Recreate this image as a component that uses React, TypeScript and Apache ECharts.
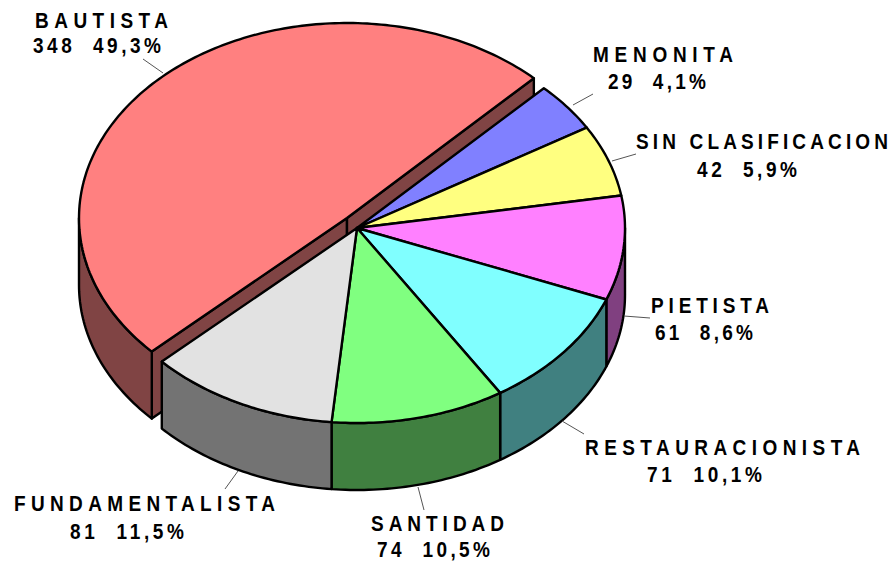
import React, { useEffect, useRef } from "react";
import * as echarts from "echarts";

const categories = ["BAUTISTA", "MENONITA", "SIN CLASIFICACION", "PIETISTA", "RESTAURACIONISTA", "SANTIDAD", "FUNDAMENTALISTA"];
const values = [348, 29, 42, 61, 71, 74, 81];
const shareLabels = ["49,3%", "4,1%", "5,9%", "8,6%", "10,1%", "10,5%", "11,5%"];
const topColors = ["#ff8080", "#8080ff", "#ffff80", "#ff80ff", "#80ffff", "#80ff80", "#e2e2e2"];
const sideColors = ["#804444", "#404080", "#808040", "#804080", "#408080", "#408040", "#737373"];

// label layout: centre x, line 1 centre y, line 1 width, line 2 centre x, line 2 centre y, line 2 width, leader x1,y1,x2,y2
const labelLayout = [
  [101.5, 20, 133, 97, 45, 128, 143, 59, 163, 73],
  [663, 54, 140, 657, 81, 98, 593, 94, 573, 105],
  [762, 141, 252, 747, 169, 100, 636, 154, 612, 161],
  [710, 305, 118, 704, 332, 98, 650, 318, 624, 316],
  [722.5, 447, 275, 704.5, 474, 115, 584, 434, 562, 421],
  [437.5, 523, 133, 433.5, 549, 113, 424, 510, 418, 487],
  [144.5, 503, 261, 127, 531, 114, 225, 489, 238, 471],
];

const START_ANGLE = 223.25;
const CX = 357;
const CY = 228;
const RX = 268;
const RY = 195;
const DEPTH = 67;
const EXPLODE_X = -10;
const EXPLODE_Y = -10;
const total = values.reduce((a, b) => a + b, 0);

const sliceAngles = (() => {
  let a = START_ANGLE;
  return values.map((v) => {
    const from = a;
    a -= (v / total) * 360;
    return [from, a];
  });
})();

function pt(deg: number, cx: number, cy: number, dz = 0) {
  const r = (deg * Math.PI) / 180;
  return [cx + RX * Math.cos(r), cy - RY * Math.sin(r) + dz];
}

function arc(from: number, to: number, cx: number, cy: number, dz = 0) {
  const n = Math.max(2, Math.ceil(Math.abs(from - to)));
  const pts: number[][] = [];
  for (let i = 0; i <= n; i++) pts.push(pt(from + ((to - from) * i) / n, cx, cy, dz));
  return pts;
}

function frontRange(from: number, to: number): number[] | null {
  for (const [lo, hi] of [[-180, 0], [180, 360]]) {
    const a = Math.min(from, hi);
    const b = Math.max(to, lo);
    if (a > b) return [a, b];
  }
  return null;
}

const stroke = { stroke: "#000", lineWidth: 2.4, lineJoin: "round" };

function renderSlice(params: any, api: any) {
  const i = params.dataIndex;
  const value = api.value(0);
  const from = sliceAngles[i][0];
  const to = from - (value / total) * 360;
  const cx = i === 0 ? CX + EXPLODE_X : CX;
  const cy = i === 0 ? CY + EXPLODE_Y : CY;
  const children: any[] = [];
  const side = { fill: sideColors[i], ...stroke };
  if (i === 0) {
    for (const a of [from, to]) {
      const p = pt(a, cx, cy);
      children.push({
        type: "polygon",
        shape: { points: [[cx, cy], p, [p[0], p[1] + DEPTH], [cx, cy + DEPTH]] },
        style: side,
      });
    }
  }
  const fr = frontRange(from, to);
  if (fr) {
    const top = arc(fr[0], fr[1], cx, cy);
    const bottom = arc(fr[1], fr[0], cx, cy, DEPTH);
    children.push({ type: "polygon", shape: { points: [...top, ...bottom] }, style: side });
  }
  children.push({
    type: "polygon",
    shape: { points: [[cx, cy], ...arc(from, to, cx, cy)] },
    style: { fill: topColors[i], ...stroke },
  });
  return { type: "group", children };
}

function renderLabel(params: any, api: any) {
  const i = params.dataIndex;
  const l = labelLayout[i];
  const font = 'bold 19px "Liberation Sans", Arial, sans-serif';
  const text = (t: string, x: number, y: number) => ({
    type: "text",
    x,
    y,
    scaleY: 1.18,
    style: { text: t, x: 0, y: 0, fill: "#000", font, align: "center", verticalAlign: "middle" },
  });
  return {
    type: "group",
    children: [
      { type: "line", shape: { x1: l[6], y1: l[7], x2: l[8], y2: l[9] }, style: { stroke: "#555", lineWidth: 1 } },
      text(categories[i], l[0], l[1]),
      text(`${api.value(0)}  ${shareLabels[i]}`, l[3], l[4]),
    ],
  };
}

function fitTexts(root: HTMLElement) {
  const widths: Record<string, number> = {};
  categories.forEach((c, i) => {
    widths[c] = labelLayout[i][2];
    widths[`${values[i]}  ${shareLabels[i]}`] = labelLayout[i][5];
  });
  root.querySelectorAll("text").forEach((t) => {
    const w = widths[(t.textContent || "").trim()];
    if (w) {
      t.setAttribute("textLength", String(w));
      t.setAttribute("lengthAdjust", "spacing");
    }
  });
}

export default function App() {
  const ref = useRef<HTMLDivElement>(null);
  useEffect(() => {
    document.body.style.margin = "0";
    const el = ref.current!;
    const chart = echarts.init(el, null, { renderer: "svg" });
    const data = categories.map((name, i) => ({ name, value: values[i] }));
    chart.setOption({
      animation: false,
      backgroundColor: "#fff",
      series: [
        { type: "custom", coordinateSystem: "none", renderItem: renderSlice, data, silent: true, clip: false },
        { type: "custom", coordinateSystem: "none", renderItem: renderLabel, data, silent: true, clip: false },
      ],
    });
    fitTexts(el);
    const onDone = () => fitTexts(el);
    chart.on("finished", onDone);
    return () => chart.dispose();
  }, []);
  return <div ref={ref} style={{ width: 892, height: 561 }} />;
}
